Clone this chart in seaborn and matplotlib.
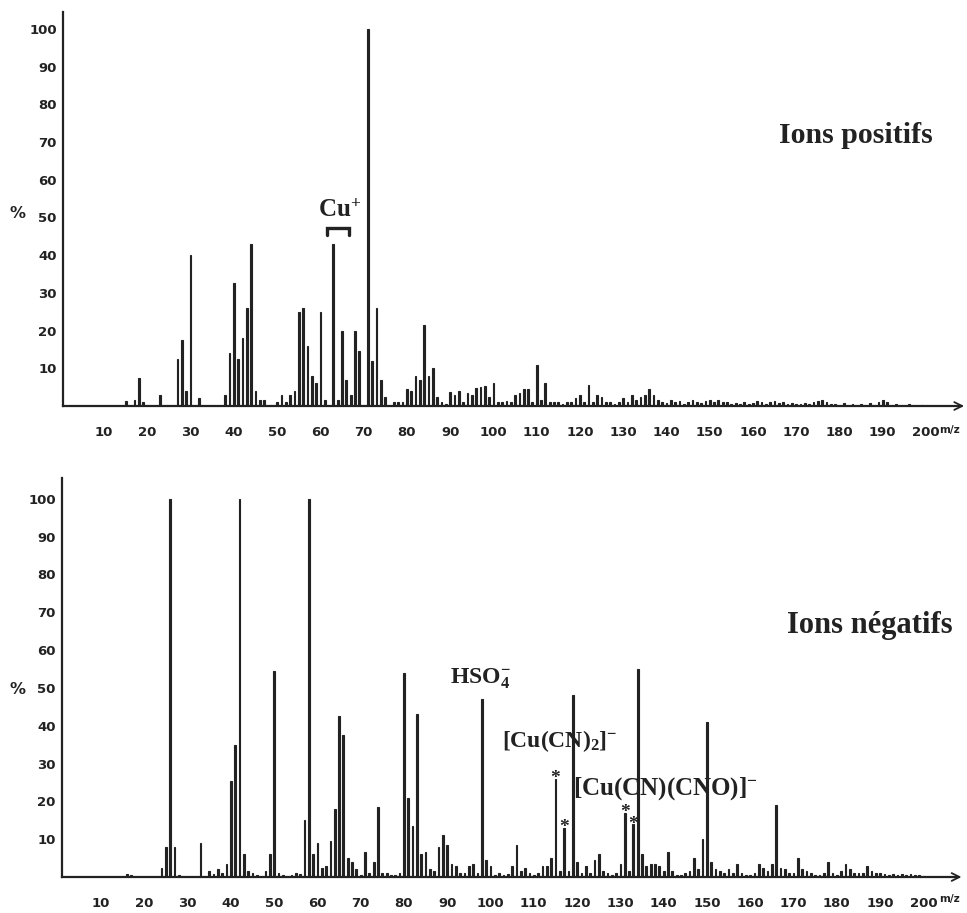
import matplotlib
matplotlib.use("Agg")
import matplotlib.pyplot as plt
import seaborn as sns
import pandas as pd

# ---------------- data (m/z, relative intensity %) ----------------
pos_mz = [15, 17, 18, 19, 23, 27, 28, 29, 30, 32, 38, 39, 40, 41, 42, 43, 44, 45, 46, 47,
          50, 51, 52, 53, 54, 55, 56, 57, 58, 59, 60, 61, 63, 64, 65, 66, 67, 68, 69, 71,
          72, 73, 74, 75, 77, 78, 79, 80, 81, 82, 83, 84, 85, 86, 87, 88, 89, 90, 91, 92,
          93, 94, 95, 96, 97, 98, 99, 100, 101, 102, 103, 104, 105, 106, 107, 108, 109, 110,
          111, 112, 113, 114, 115, 116, 117, 118, 119, 120, 121, 122, 123, 124, 125, 126,
          127, 128, 129, 130, 131, 132, 133, 134, 135, 136, 137, 138, 139, 140, 141, 142,
          143, 144, 145, 146, 147, 148, 149, 150, 151, 152, 153, 154, 155, 156, 157, 158,
          159, 160, 161, 162, 163, 164, 165, 166, 167, 168, 169, 170, 171, 172, 173, 174,
          175, 176, 177, 178, 179, 181, 183, 185, 187, 189, 190, 191, 193, 196, 199]
pos_int = [1.2, 1.5, 7.5, 1.0, 3.0, 12.5, 17.5, 4.0, 40.0, 2.0, 3.0, 14.0, 32.5, 12.5, 18.0, 26.0, 43.0, 4.0, 1.5, 1.5,
           1.0, 3.0, 1.0, 3.0, 4.0, 25.0, 26.0, 16.0, 8.0, 6.0, 25.0, 1.5, 43.0, 1.5, 20.0, 7.0, 3.0, 20.0, 14.5, 100.0,
           12.0, 26.0, 7.0, 2.5, 1.0, 1.0, 1.0, 4.5, 4.0, 8.0, 7.0, 21.5, 8.0, 10.0, 2.5, 1.0, 0.5, 3.7, 3.0, 4.0,
           1.0, 3.5, 3.0, 4.7, 5.0, 5.4, 2.5, 6.0, 1.0, 1.0, 1.2, 1.0, 3.0, 3.5, 4.5, 4.5, 1.0, 11.0,
           1.5, 6.0, 1.0, 1.0, 1.0, 0.5, 1.0, 1.0, 2.0, 3.0, 1.0, 5.5, 1.0, 3.0, 2.5, 1.0,
           1.0, 0.5, 1.0, 2.0, 1.0, 3.0, 1.5, 2.5, 3.0, 4.5, 3.0, 1.5, 1.0, 0.8, 1.5, 1.0,
           1.2, 0.5, 1.0, 1.5, 1.0, 0.8, 1.2, 1.5, 1.0, 1.5, 1.0, 1.0, 0.5, 0.8, 0.5, 1.0,
           0.5, 0.8, 1.2, 1.0, 0.5, 1.0, 1.2, 0.8, 1.0, 0.5, 0.8, 0.5, 0.5, 0.8, 0.5, 1.0,
           1.2, 1.5, 1.0, 0.5, 0.5, 0.8, 0.5, 0.5, 0.8, 1.0, 1.5, 1.0, 0.5, 0.5, 0.3]

neg_mz = [16, 17, 24, 25, 26, 27, 28, 33, 35, 36, 37, 38, 39, 40, 41, 42, 43, 44, 45, 46,
          48, 49, 50, 51, 52, 54, 55, 56, 57, 58, 59, 60, 61, 62, 63, 64, 65, 66, 67, 68,
          69, 70, 71, 72, 73, 74, 75, 76, 77, 78, 79, 80, 81, 82, 83, 84, 85, 86, 87, 88,
          89, 90, 91, 92, 93, 94, 95, 96, 97, 98, 99, 100, 101, 102, 103, 104, 105, 106, 107,
          108, 109, 110, 111, 112, 113, 114, 115, 116, 117, 118, 119, 120, 121, 122, 123, 124,
          125, 126, 127, 128, 129, 130, 131, 132, 133, 134, 135, 136, 137, 138, 139, 140, 141,
          142, 143, 144, 145, 146, 147, 148, 149, 150, 151, 152, 153, 154, 155, 156, 157, 158,
          159, 160, 161, 162, 163, 164, 165, 166, 167, 168, 169, 170, 171, 172, 173, 174, 175,
          176, 177, 178, 179, 180, 181, 182, 183, 184, 185, 186, 187, 188, 189, 190, 191, 192,
          193, 194, 195, 196, 197, 198, 199, 200]
neg_int = [0.8, 0.5, 2.5, 8.0, 100.0, 8.0, 0.5, 9.0, 1.5, 0.8, 2.0, 1.0, 3.5, 25.5, 35.0, 100.0, 6.0, 1.5, 1.0, 0.5,
           1.5, 6.0, 54.5, 1.0, 0.5, 0.5, 1.0, 0.8, 15.0, 100.0, 6.0, 9.0, 2.5, 3.0, 9.5, 18.0, 42.5, 37.5, 5.0, 4.0,
           2.0, 0.5, 6.5, 1.0, 4.0, 18.5, 1.0, 1.0, 0.5, 0.5, 1.0, 54.0, 21.0, 13.5, 43.0, 6.0, 6.5, 2.0, 1.5, 8.0,
           11.0, 8.5, 3.5, 3.0, 1.0, 1.0, 3.0, 3.5, 1.0, 47.0, 4.5, 3.0, 0.5, 1.0, 0.5, 0.8, 3.0, 8.5, 1.5,
           2.5, 1.0, 0.5, 1.0, 3.0, 3.0, 5.0, 26.0, 1.5, 13.0, 1.5, 48.0, 4.0, 1.0, 3.0, 1.0, 4.5,
           6.0, 1.5, 1.0, 0.5, 1.0, 3.5, 17.0, 1.5, 14.0, 55.0, 6.0, 3.0, 3.5, 3.5, 3.0, 1.5, 6.5,
           1.5, 0.5, 0.5, 1.0, 1.5, 5.0, 2.0, 10.0, 41.0, 4.0, 2.0, 1.5, 1.0, 2.0, 1.0, 3.5, 1.0,
           0.5, 0.5, 1.0, 3.5, 2.5, 1.5, 3.5, 19.0, 2.5, 2.0, 1.0, 1.0, 5.0, 2.0, 1.5, 1.0, 0.5,
           0.5, 1.0, 4.0, 1.0, 0.5, 1.5, 3.5, 2.0, 1.0, 1.0, 1.0, 3.0, 1.5, 1.0, 1.0, 0.8, 0.5,
           0.8, 0.5, 0.8, 0.5, 0.8, 0.5, 0.5, 0.3]

x_ticks = [10, 20, 30, 40, 50, 60, 70, 80, 90, 100, 110, 120, 130, 140, 150, 160, 170, 180, 190, 200]
y_ticks = [10, 20, 30, 40, 50, 60, 70, 80, 90, 100]
cu_isotopes = [63, 65]                 # Cu+ bracket in positive spectrum
starred_mz = [115, 117, 131, 133]      # copper-isotope marked peaks in negative spectrum

# ---------------- style ----------------
sns.set_style("white")
plt.rcParams["font.family"] = ["DejaVu Sans"]
plt.rcParams["mathtext.fontset"] = "custom"
plt.rcParams["mathtext.rm"] = "Liberation Serif:bold"
plt.rcParams["mathtext.it"] = "Liberation Serif:bold"
plt.rcParams["mathtext.bf"] = "Liberation Serif:bold"

W, H = 967, 913
fig = plt.figure(figsize=(W / 100, H / 100), dpi=100)
INK = "#222222"
SERIF = "Liberation Serif"


def fx(px):
    return px / W


def fy(py):
    return 1 - py / H


def make_panel(rect, mz, inten, xlim, ylim):
    ax = fig.add_axes(rect)
    df = pd.DataFrame({"mz": mz, "int": inten})
    sns.barplot(data=df, x="mz", y="int", native_scale=True, orient="x",
                width=0.4, color=INK, edgecolor=INK, linewidth=0.8,
                errorbar=None, ax=ax)
    for p in ax.patches:
        p.set_zorder(3)
    ax.set_xlim(*xlim)
    ax.set_ylim(*ylim)
    ax.set_xlabel("")
    ax.set_ylabel("")
    ax.set_xticks(x_ticks)
    ax.set_xticklabels([str(t) for t in x_ticks])
    ax.set_yticks(y_ticks)
    ax.set_yticklabels([str(t) for t in y_ticks])
    for s in ["top", "right"]:
        ax.spines[s].set_visible(False)
    for s in ["left", "bottom"]:
        ax.spines[s].set_color(INK)
        ax.spines[s].set_linewidth(1.6)
        ax.spines[s].set_zorder(4)
    ax.tick_params(axis="x", direction="out", length=6.5, width=1.2, color=INK,
                   pad=8, labelsize=9.5, labelcolor=INK)
    ax.tick_params(axis="y", direction="out", length=3, width=1.0, color=INK,
                   pad=1.5, labelsize=9.5, labelcolor=INK)
    for lab in ax.get_xticklabels() + ax.get_yticklabels():
        lab.set_fontweight("bold")
    ax.patch.set_alpha(0)
    # arrow at end of the m/z axis
    ax.annotate("", xy=(xlim[1] + 0.8, 0), xytext=(xlim[1] - 2, 0),
                xycoords="data", annotation_clip=False,
                arrowprops=dict(arrowstyle="->", lw=1.3, color=INK,
                                mutation_scale=14, shrinkA=0, shrinkB=0))
    return ax


# top panel: positive ions
ax1 = make_panel([fx(63), fy(406), 897.6 / W, 394 / H], pos_mz, pos_int,
                 (0.5, 208), (0, 104.5))
# bottom panel: negative ions
ax2 = make_panel([fx(62), fy(877), 896 / W, 399 / H], neg_mz, neg_int,
                 (1, 208), (0, 105.5))

# y-axis "%" labels and m/z labels
for ax, py_pct, py_mz in [(ax1, 213, 430), (ax2, 689, 899)]:
    ax.text(fx(17), fy(py_pct), "%", transform=fig.transFigure, ha="center",
            va="center", fontsize=11.5, fontweight="bold", color=INK)
    ax.text(fx(950), fy(py_mz), "m/z", transform=fig.transFigure, ha="center",
            va="center", fontsize=7.5, fontweight="bold", color=INK)

# panel titles
ax1.text(fx(779), fy(143), "Ions positifs", transform=fig.transFigure,
         family=SERIF, fontweight="bold", fontsize=21.5, color=INK,
         ha="left", va="baseline", zorder=1)
ax2.text(fx(787), fy(633), "Ions négatifs", transform=fig.transFigure,
         family=SERIF, fontweight="bold", fontsize=22, color=INK,
         ha="left", va="baseline", zorder=1)

# Cu+ label with bracket over the two copper isotopes
ax1.text(fx(318), fy(217), r"$\mathrm{Cu^{+}}$", transform=fig.transFigure,
         fontsize=18, color=INK, ha="left", va="baseline", zorder=1)
bx0, bx1 = min(cu_isotopes) - 1.5, max(cu_isotopes) + 1.5
ax1.plot([bx0, bx0, bx1, bx1], [45.3, 47.3, 47.3, 45.3], color=INK, lw=2.4,
         solid_joinstyle="miter", zorder=3)

# negative ion annotations
ax2.text(fx(450), fy(683), r"$\mathrm{HSO_{4}^{-}}$", transform=fig.transFigure,
         fontsize=17, color=INK, ha="left", va="baseline", zorder=1)
ax2.text(fx(502), fy(747), r"$\mathrm{[Cu(CN)_{2}]^{-}}$", transform=fig.transFigure,
         fontsize=17, color=INK, ha="left", va="baseline", zorder=1)
ax2.text(fx(573), fy(795), r"$\mathrm{[Cu(CN)(CNO)]^{-}}$", transform=fig.transFigure,
         fontsize=18, color=INK, ha="left", va="baseline", zorder=1)
neg_lookup = dict(zip(neg_mz, neg_int))
for m in starred_mz:
    ax2.text(m, neg_lookup[m] - 1.2, "*", family=SERIF, fontweight="bold",
             fontsize=14, color=INK, ha="center", va="baseline", zorder=2)

fig.savefig("out.png", dpi=100, facecolor="white")
